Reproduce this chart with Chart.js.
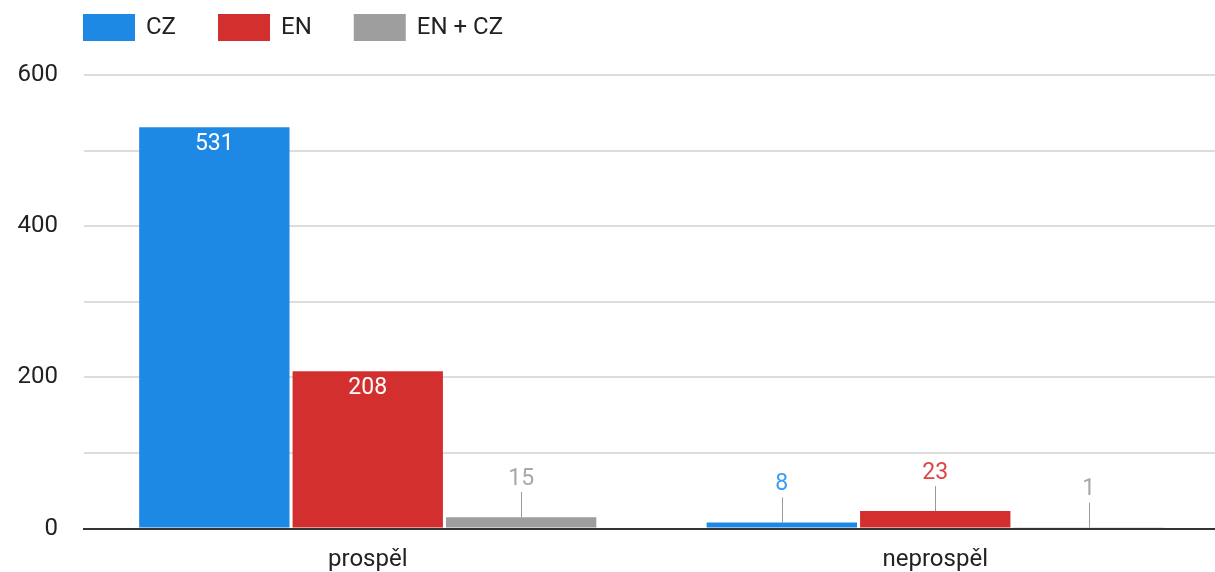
<!DOCTYPE html>
<html>
<head>
<meta charset="utf-8">
<script src="https://cdn.jsdelivr.net/npm/chart.js@4"></script>
<style>
  html, body { margin: 0; padding: 0; background: #fff; overflow: hidden; }
  #wrap { width: 1219px; height: 572px; }
</style>
</head>
<body>
<div id="wrap"><canvas id="chart"></canvas></div>
<script>
const categories = ["prospěl", "neprospěl"];
const seriesNames = ["CZ", "EN", "EN + CZ"];
const czValues = [531, 8];
const enValues = [208, 23];
const bothValues = [15, 1];
const yTicks = [0, 200, 400, 600];

const barColors = ["#1E88E5", "#D32F2F", "#9E9E9E"];
const labelColors = ["#3d9bf0", "#e04545", "#a8a8a8"];
const FONT = "Roboto";

// value labels: white inside tall bars, leader line + colored text for short ones
const valueLabels = {
  id: "valueLabels",
  afterDatasetsDraw(chart) {
    const ctx = chart.ctx;
    ctx.save();
    ctx.font = "23px " + FONT;
    ctx.textAlign = "center";
    ctx.textBaseline = "middle";
    chart.data.datasets.forEach((ds, i) => {
      const meta = chart.getDatasetMeta(i);
      meta.data.forEach((bar, j) => {
        const v = ds.data[j];
        const h = bar.base - bar.y;
        if (h > 40) {
          ctx.fillStyle = "#ffffff";
          ctx.fillText(v, bar.x, bar.y + 17);
        } else {
          ctx.strokeStyle = "#999999";
          ctx.lineWidth = 1;
          ctx.beginPath();
          ctx.moveTo(Math.round(bar.x) + 0.5, bar.y);
          ctx.lineTo(Math.round(bar.x) + 0.5, bar.y - 25);
          ctx.stroke();
          ctx.fillStyle = labelColors[i];
          ctx.fillText(v, bar.x, bar.y - 38);
        }
      });
    });
    ctx.restore();
  },
};

// legend at the top left
const topLegend = {
  id: "topLegend",
  afterDraw(chart) {
    const ctx = chart.ctx;
    ctx.save();
    ctx.font = "24px " + FONT;
    ctx.textBaseline = "middle";
    let x = 83;
    chart.data.datasets.forEach((ds) => {
      ctx.fillStyle = ds.backgroundColor;
      ctx.fillRect(x, 14, 52, 27);
      ctx.fillStyle = "#222222";
      ctx.fillText(ds.label, x + 63, 28);
      x += 63 + ctx.measureText(ds.label).width + 42;
    });
    ctx.restore();
  },
};

const ctx = document.getElementById("chart").getContext("2d");

const myChart = new Chart(ctx, {
  type: "bar",
  data: {
    labels: categories,
    datasets: [
      { label: seriesNames[0], data: czValues, backgroundColor: barColors[0] },
      { label: seriesNames[1], data: enValues, backgroundColor: barColors[1] },
      { label: seriesNames[2], data: bothValues, backgroundColor: barColors[2] },
    ],
  },
  options: {
    responsive: true,
    maintainAspectRatio: false,
    animation: false,
    categoryPercentage: 0.811,
    barPercentage: 0.98,
    layout: { padding: { top: 75, right: 0, bottom: 0, left: 0 } },
    plugins: {
      legend: { display: false },
      tooltip: { enabled: false },
    },
    scales: {
      x: {
        grid: { display: false },
        border: { display: true, color: "#333333", width: 2 },
        ticks: { color: "#222222", font: { family: FONT, size: 24 }, padding: 9 },
        afterFit(scale) {
          scale.height = 43.5;
        },
      },
      y: {
        min: 0,
        max: 600,
        grid: { color: "#dddddd", lineWidth: 2, drawTicks: false },
        border: { display: false },
        ticks: {
          stepSize: 100,
          color: "#222222",
          font: { family: FONT, size: 24 },
          padding: 26,
          callback: (v) => (yTicks.includes(v) ? v : ""),
        },
        afterFit(scale) {
          scale.width = 84;
        },
      },
    },
  },
  plugins: [valueLabels, topLegend],
});
</script>
</body>
</html>
